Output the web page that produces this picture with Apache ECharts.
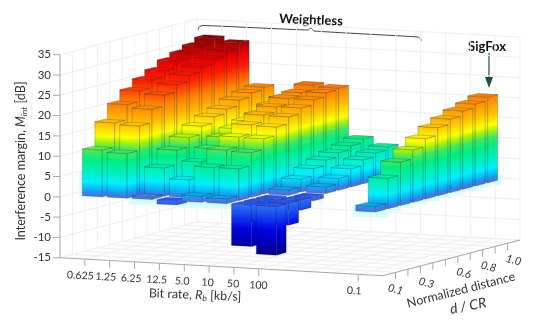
<!DOCTYPE html>
<html><head><meta charset="utf-8"><style>html,body{margin:0;background:#fff}#c{width:550px;height:328px}</style>
<script src="https://cdn.jsdelivr.net/npm/echarts@6/dist/echarts.min.js"></script></head><body><div id="c"></div>
<script>
// Tick labels
const zTicks=[35,30,25,20,15,10,5,0,-5,-10,-15];
const rateLabels=['0.625','1.25','6.25','12.5','5.0','10','50','100','','','','0.1'];
const distLabels=['0.1','','0.3','','','0.6','','0.8','','1.0'];
// Margin [dB] per bit-rate column, rows d/CR = 0.1 ... 1.0
const rate0625=[11.5,17.4,21.1,23.7,25.6,27,28.6,29.7,30.7,31.8];
const rate125=[11,17,20.3,23,24.8,26.3,27.5,28.7,29.9,31];
const rate625=[0.6,7,10.6,12.9,14.9,16.4,17.5,18.9,19.9,20.5];
const rate125b=[-1,4.4,8,10.5,12.5,13.8,14.9,15.8,17.2,18.2];
const rate50=[1.5,7.8,11.3,13.7,15.9,17.5,18.7,20,20.6,21.7];
const rate10=[1.2,7.8,11,13.6,15.7,17.4,18.8,20,20.9,21.3];
const rate50b=[-10.2,-5,-2,1.3,3.2,5,6.3,7.3,8.2,9.1];
const rate100=[-12,-5.4,-2.5,-1,1.6,2.9,4.5,5.9,6.8,7.5];
const rate01=[1.4,7.5,10.7,12.9,14.9,16.8,18.1,19.3,20.2,21.1];
const columns=[[1,rate0625],[2,rate125],[3,rate625],[4,rate125b],[5,rate50],[6,rate10],[7,rate50b],[8,rate100],[12,rate01]];
const colormap=[[-15,'#000050'],[-12,'#000080'],[-10,'#0000a8'],[-6,'#0000e0'],[-2,'#1a50f0'],[-0.5,'#2a68f0'],[0,'#5a66e6'],[0.3,'#5a6ee8'],[0.7,'#3085ea'],[1.4,'#10a8f0'],[3.5,'#00f0ff'],[6,'#00f0c0'],[9,'#00ee80'],[11,'#40e860'],[12.5,'#a0f010'],[14,'#ffff00'],[17,'#ffc000'],[21,'#ff8000'],[25,'#ff2000'],[28,'#f00000'],[31,'#a00000'],[33,'#700000']];

const O=[60,257.7],CV=[24.85,1.385],RV=[12.45,-3.245],ZS=4.06,ZMIN=-15,ZMAX=35,CN=13,RN=11,HW=0.4;
function proj(c,r,z){return [O[0]+CV[0]*c+RV[0]*r,O[1]+CV[1]*c+RV[1]*r-(z-ZMIN)*ZS];}
function hex(h){return [1,3,5].map(i=>parseInt(h.substr(i,2),16));}
function col(z){
  if(z<=colormap[0][0])return colormap[0][1];
  for(let i=1;i<colormap.length;i++){ if(z<=colormap[i][0]){
    const t=(z-colormap[i-1][0])/(colormap[i][0]-colormap[i-1][0]),a=hex(colormap[i-1][1]),b=hex(colormap[i][1]);
    return 'rgb('+a.map((v,k)=>Math.round(v+(b[k]-v)*t)).join(',')+')';}}
  return colormap[colormap.length-1][1];
}
function grad(A,d,z0,z1){
  const h=(z1-z0)*ZS,L=Math.hypot(d[0],d[1]),n=[-d[1]/L,d[0]/L],p=-h*n[1];
  const stops=[{offset:0,color:col(z0)}];
  colormap.forEach(s=>{if(s[0]>z0&&s[0]<z1)stops.push({offset:(s[0]-z0)/(z1-z0),color:s[1]});});
  stops.push({offset:1,color:col(z1)});
  return new echarts.graphic.LinearGradient(A[0],A[1],A[0]+n[0]*p,A[1]+n[1]*p,stops,true);
}
const bars=[];
columns.forEach(([c,v])=>v.forEach((z,i)=>bars.push([c,i+1,z])));
bars.sort((a,b)=>(a[0]-a[1])-(b[0]-b[1]));
// front-most bars carry a pale halo around their foot
const halos=bars.filter(b=>b[2]>0&&(b[0]===12||(b[1]===1&&b[0]!==2)));

const lines=[];
for(let z=ZMIN;z<=ZMAX;z+=5){lines.push([[0,RN,z],[CN,RN,z]]);lines.push([[0,0,z],[0,RN,z]]);}
for(let c=1;c<=CN;c++){lines.push([[c,RN,ZMIN],[c,RN,ZMAX]]);lines.push([[c,0,ZMIN],[c,RN,ZMIN]]);}
for(let r=1;r<=RN;r++){lines.push([[0,r,ZMIN],[0,r,ZMAX]]);lines.push([[0,r,ZMIN],[CN,r,ZMIN]]);}

const axisSegs=[[[0,0,ZMIN],[0,0,ZMAX]],[[0,0,ZMIN],[CN,0,ZMIN]],[[CN,0,ZMIN],[CN,RN,ZMIN]]];

function segSeries(data,color,w){return {type:'custom',coordinateSystem:'cartesian2d',silent:true,animation:false,clip:false,
  data:data.map((s,i)=>[i]),
  renderItem:(p,api)=>{const s=data[api.value(0)],a=api.coord(proj(...s[0])),b=api.coord(proj(...s[1]));
    return {type:'line',shape:{x1:a[0],y1:a[1],x2:b[0],y2:b[1]},style:{stroke:color,lineWidth:w}};}};}

const ticks=[];
zTicks.forEach(z=>ticks.push({p:proj(0,0,z),d:[-7,0]}));
rateLabels.forEach((l,i)=>{if(l)ticks.push({p:proj(i+1,0,ZMIN),d:[0,7]});});
distLabels.forEach((l,i)=>ticks.push({p:proj(CN,i+1,ZMIN),d:[0,7]}));

const texts=[];
const F='Lato,"Open Sans",sans-serif',TC='#333';
zTicks.forEach(z=>{const p=proj(0,0,z);texts.push({type:'text',x:p[0]-9,y:p[1],style:{text:String(z),font:'11.5px '+F,fill:TC,align:'right',verticalAlign:'middle'}});});
rateLabels.forEach((l,i)=>{if(!l)return;const p=proj(i+1,0,ZMIN);texts.push({type:'text',x:p[0]-(i<8?4.5-i*0.6:4),y:p[1]+16.5,rotation:-0.05,style:{text:l,font:'10.5px '+F,fill:TC,align:'center',verticalAlign:'middle'}});});
distLabels.forEach((l,i)=>{if(!l)return;const p=proj(CN,i+1,ZMIN);texts.push({type:'text',x:p[0]+(i?6:0),y:p[1]+17,rotation:-0.25,style:{text:l,font:'italic 11px '+F,fill:TC,align:'center',verticalAlign:'middle'}});});
const rich=(size)=>({i:{font:'italic '+size+'px '+F,fill:TC},s:{font:'italic '+(size-4)+'px '+F,fill:TC,verticalAlign:'bottom',padding:[6,0,0,0]},n:{font:size+'px '+F,fill:TC}});
texts.push({type:'text',x:195,y:295,rotation:-0.04,style:{text:'{n|Bit rate, }{i|R}{s|b}{n| [kb/s]}',rich:rich(12.5),align:'center',verticalAlign:'middle'}});
texts.push({type:'text',x:21,y:161,rotation:Math.PI/2,style:{text:'{n|Interference margin, }{i|M}{s|int}{n| [dB]}',rich:rich(12.5),align:'center',verticalAlign:'middle'}});
texts.push({type:'text',x:461,y:290,rotation:0.25,style:{text:'Normalized distance',font:'12.5px '+F,fill:TC,align:'center',verticalAlign:'middle'}});
texts.push({type:'text',x:468,y:306,rotation:0.2,style:{text:'d / CR',font:'italic 14px '+F,fill:TC,align:'center',verticalAlign:'middle'}});
texts.push({type:'text',x:311,y:20,rotation:-0.04,style:{text:'Weightless',font:'bold 13px '+F,fill:'#111',align:'center',verticalAlign:'middle'}});
texts.push({type:'text',x:487,y:47,style:{text:'SigFox',font:'bold 13px '+F,fill:'#111',align:'center',verticalAlign:'middle'}});
const annot=[
 {type:'polyline',shape:{points:[[198,30],[199,27],[203,25.5],[308,30],[311,28],[314,31],[418,37],[421,39],[421,41]],smooth:0.15},style:{stroke:'#444',fill:null,lineWidth:1}},
 {type:'line',shape:{x1:489,y1:53,x2:489,y2:78},style:{stroke:'#17543c',lineWidth:1.2}},
 {type:'polygon',shape:{points:[[485,77],[493,77],[489,88]]},style:{fill:'#17543c'}}
];

const chart=echarts.init(document.getElementById('c'),null,{renderer:'canvas'});
chart.setOption({animation:false,backgroundColor:'#fff',
 grid:{left:0,right:0,top:0,bottom:0},
 xAxis:{type:'value',min:0,max:550,show:false},
 yAxis:{type:'value',min:0,max:328,inverse:true,show:false},
 graphic:{elements:texts.concat(annot)},
 series:[
  segSeries(lines,'#f0f0f0',1),
  segSeries(axisSegs,'#a8a8a8',1),
  {type:'custom',coordinateSystem:'cartesian2d',silent:true,animation:false,clip:false,data:ticks.map((t,i)=>[i]),
   renderItem:(p,api)=>{const t=ticks[api.value(0)],a=api.coord(t.p);return {type:'line',shape:{x1:a[0],y1:a[1],x2:a[0]+t.d[0],y2:a[1]+t.d[1]},style:{stroke:'#a8a8a8',lineWidth:1}};}},
  {type:'custom',coordinateSystem:'cartesian2d',silent:true,animation:false,clip:false,data:halos,
   renderItem:(p,api)=>{const a=api.coord(proj(api.value(0),api.value(1),0)),c=api.value(0),r=api.value(1);
     const above=c===1?24:6,under=c===1?3:(c===12&&r>1?4:7);
     return {type:'rect',shape:{x:a[0]-18,y:a[1]-above,width:36,height:above+under},style:{fill:'#d4ffff'}};}},
  {type:'custom',coordinateSystem:'cartesian2d',silent:true,animation:false,clip:false,data:bars,
   renderItem:(p,api)=>{
    const c=api.value(0),r=api.value(1),z=api.value(2),lo=Math.min(0,z),hi=Math.max(0,z);
    const P=(dc,dr,zz)=>api.coord(proj(c+dc*HW,r+dr*HW,zz));
    const stroke={stroke:z<0?'rgba(0,0,90,0.3)':'rgba(30,50,50,0.42)',lineWidth:0.6};
    const face=(pts,fill)=>({type:'polygon',shape:{points:pts},style:Object.assign({fill},stroke)});
    return {type:'group',children:[
      face([P(-1,-1,lo),P(1,-1,lo),P(1,-1,hi),P(-1,-1,hi)],grad(P(-1,-1,lo),CV,lo,hi)),
      face([P(1,-1,lo),P(1,1,lo),P(1,1,hi),P(1,-1,hi)],grad(P(1,-1,lo),RV,lo,hi)),
      face([P(-1,-1,hi),P(1,-1,hi),P(1,1,hi),P(-1,1,hi)],z<0?'#2458e6':col(hi))
    ]};
   }}
 ]});
</script></body></html>
